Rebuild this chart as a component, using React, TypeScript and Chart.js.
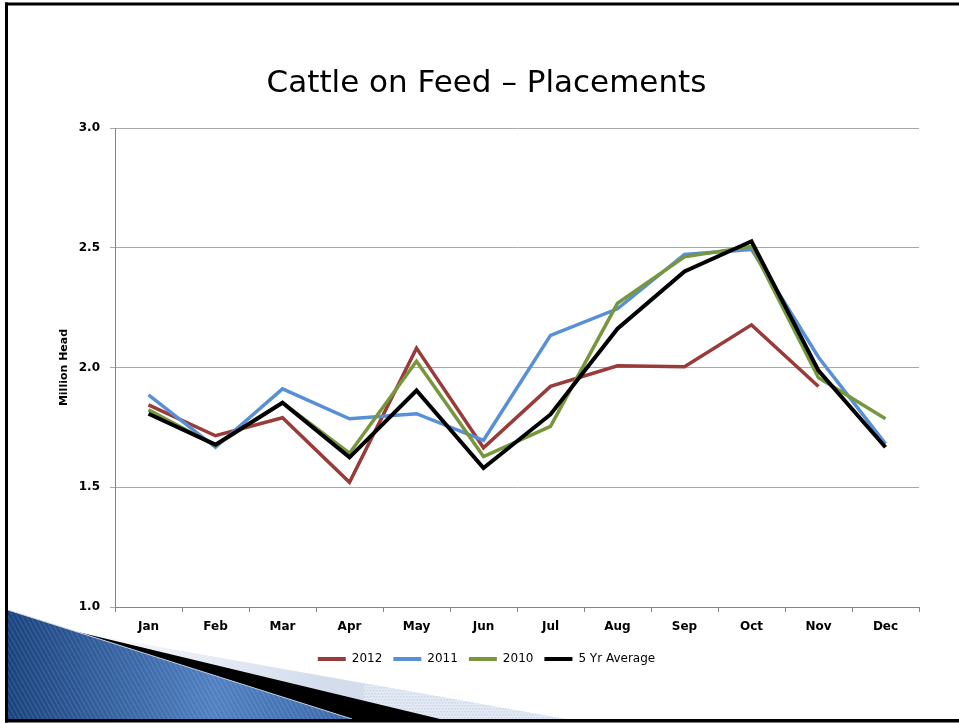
import React, { useEffect, useRef } from "react";
import { Chart, registerables } from "chart.js";

Chart.register(...registerables);

const months = ["Jan", "Feb", "Mar", "Apr", "May", "Jun", "Jul", "Aug", "Sep", "Oct", "Nov", "Dec"];
const series2012 = [1.844, 1.715, 1.79, 1.521, 2.081, 1.665, 1.921, 2.007, 2.003, 2.178, 1.921, null];
const series2011 = [1.886, 1.667, 1.911, 1.786, 1.807, 1.696, 2.134, 2.245, 2.472, 2.493, 2.043, 1.681];
const series2010 = [1.823, 1.674, 1.853, 1.642, 2.026, 1.628, 1.754, 2.268, 2.462, 2.506, 1.957, 1.786];
const series5yr = [1.807, 1.678, 1.853, 1.625, 1.904, 1.58, 1.804, 2.162, 2.401, 2.527, 1.987, 1.667];
const seriesNames = ["2012", "2011", "2010", "5 Yr Average"];
const yTicks = [1.0, 1.5, 2.0, 2.5, 3.0];
const chartTitle = "Cattle on Feed – Placements";
const yAxisTitle = "Million Head";

const slideDecor = {
  id: "slideDecor",
  beforeDraw(chart: any) {
    const ctx = chart.ctx as CanvasRenderingContext2D;
    const W = chart.width;
    const H = chart.height;
    ctx.save();
    ctx.fillStyle = "#ffffff";
    ctx.fillRect(0, 0, W, H);

    // light band (solid left part)
    ctx.beginPath();
    ctx.moveTo(8, 620);
    ctx.lineTo(565, 719);
    ctx.lineTo(8, 719);
    ctx.closePath();
    const lg = ctx.createLinearGradient(60, 0, 320, 0);
    lg.addColorStop(0, "#ffffff");
    lg.addColorStop(1, "#d3ddec");
    ctx.fillStyle = lg;
    ctx.fill();
    // dotted right part
    ctx.save();
    ctx.clip();
    ctx.fillStyle = "#e4eaf3";
    ctx.fillRect(364, 600, 300, 130);
    ctx.fillStyle = "rgba(200,212,232,0.9)";
    for (let x = 364; x < 600; x += 3) {
      for (let y = 660; y < 720; y += 3) {
        ctx.fillRect(x + ((y / 3) % 2 ? 1.5 : 0), y, 1.5, 1.5);
      }
    }
    ctx.restore();

    // black wedge
    ctx.beginPath();
    ctx.moveTo(78, 632);
    ctx.lineTo(440, 719);
    ctx.lineTo(340, 719);
    ctx.closePath();
    ctx.fillStyle = "#000000";
    ctx.fill();

    // blue triangle
    ctx.beginPath();
    ctx.moveTo(8, 610);
    ctx.lineTo(352, 719);
    ctx.lineTo(8, 719);
    ctx.closePath();
    const bg = ctx.createLinearGradient(8, 0, 352, 0);
    bg.addColorStop(0, "#1a437e");
    bg.addColorStop(0.6, "#5080c2");
    bg.addColorStop(1, "#3b69aa");
    ctx.fillStyle = bg;
    ctx.fill();
    ctx.save();
    ctx.clip();
    ctx.strokeStyle = "rgba(255,255,255,0.10)";
    ctx.lineWidth = 1.5;
    for (let x = -100; x < 420; x += 4.5) {
      ctx.beginPath();
      ctx.moveTo(x, 600);
      ctx.lineTo(x + 70, 725);
      ctx.stroke();
    }
    ctx.restore();
    ctx.beginPath();
    ctx.moveTo(8, 610);
    ctx.lineTo(352, 719);
    ctx.strokeStyle = "rgba(210,222,240,0.9)";
    ctx.lineWidth = 1;
    ctx.stroke();

    // frame
    ctx.fillStyle = "#000000";
    ctx.fillRect(5, 2.5, W - 5, 3);
    ctx.fillRect(5, 2.5, 3, H - 3);
    ctx.fillRect(5, 719, W - 5, 3.5);
    ctx.restore();
  },
};

export default function App() {
  const canvasRef = useRef<HTMLCanvasElement | null>(null);

  useEffect(() => {
    const canvas = canvasRef.current;
    if (!canvas) return;
    const font = "'DejaVu Sans', 'Liberation Sans', sans-serif";
    const chart = new Chart(canvas, {
      type: "line",
      data: {
        labels: months,
        datasets: [
          { label: seriesNames[0], data: series2012, borderColor: "#993b39", backgroundColor: "#993b39", borderWidth: 3.5, pointRadius: 0, order: 4 },
          { label: seriesNames[1], data: series2011, borderColor: "#5890d8", backgroundColor: "#5890d8", borderWidth: 3.5, pointRadius: 0, order: 3 },
          { label: seriesNames[2], data: series2010, borderColor: "#77973d", backgroundColor: "#77973d", borderWidth: 3.5, pointRadius: 0, order: 2 },
          { label: seriesNames[3], data: series5yr, borderColor: "#000000", backgroundColor: "#000000", borderWidth: 4, pointRadius: 0, order: 1 },
        ],
      },
      options: {
        responsive: false,
        animation: false,
        devicePixelRatio: 1,
        events: [],
        layout: { padding: { left: 54, right: 40, top: 0, bottom: 48 } },
        elements: { line: { tension: 0, borderJoinStyle: "miter" } },
        scales: {
          x: {
            offset: true,
            grid: { display: true, drawOnChartArea: false, drawTicks: true, tickLength: 5, color: "#868686", offset: true },
            border: { color: "#868686", width: 1 },
            ticks: { color: "#000000", padding: 8, font: { family: font, size: 12, weight: "bold" } },
            afterFit: (scale: any) => {
              scale.height = 35;
            },
          },
          y: {
            min: 1,
            max: 3,
            afterBuildTicks: (scale: any) => {
              scale.ticks = yTicks.map((v) => ({ value: v }));
            },
            grid: { color: "#a8a8a8", tickLength: 5, drawTicks: true },
            border: { color: "#868686", width: 1 },
            ticks: {
              color: "#000000",
              padding: 10,
              font: { family: font, size: 12, weight: "bold" },
              callback: (v: any) => Number(v).toFixed(1),
            },
            title: {
              display: true,
              text: yAxisTitle,
              color: "#000000",
              font: { family: font, size: 11, weight: "bold" },
              padding: { top: 4, bottom: 0 },
            },
            afterFit: (scale: any) => {
              scale.width = 61;
            },
          },
        },
        plugins: {
          title: {
            display: true,
            text: chartTitle,
            color: "#000000",
            font: { family: font, size: 31, weight: "normal", lineHeight: 1.2 },
            padding: { top: 65, bottom: 25.8 },
          },
          legend: {
            position: "bottom",
            labels: {
              color: "#000000",
              font: { family: font, size: 12 },
              boxWidth: 28,
              boxHeight: 4,
              padding: 11,
              sort: (a: any, b: any) => a.datasetIndex - b.datasetIndex,
              generateLabels: (c: any) =>
                Chart.defaults.plugins.legend.labels.generateLabels(c).map((l: any) => ({ ...l, lineWidth: 0 })),
            },
          },
          tooltip: { enabled: false },
        },
      },
      plugins: [slideDecor],
    } as any);
    return () => chart.destroy();
  }, []);

  return (
    <div style={{ position: "fixed", left: 0, top: 0, width: 959, height: 723 }}>
      <canvas ref={canvasRef} width={959} height={723} style={{ width: 959, height: 723, display: "block" }} />
    </div>
  );
}
